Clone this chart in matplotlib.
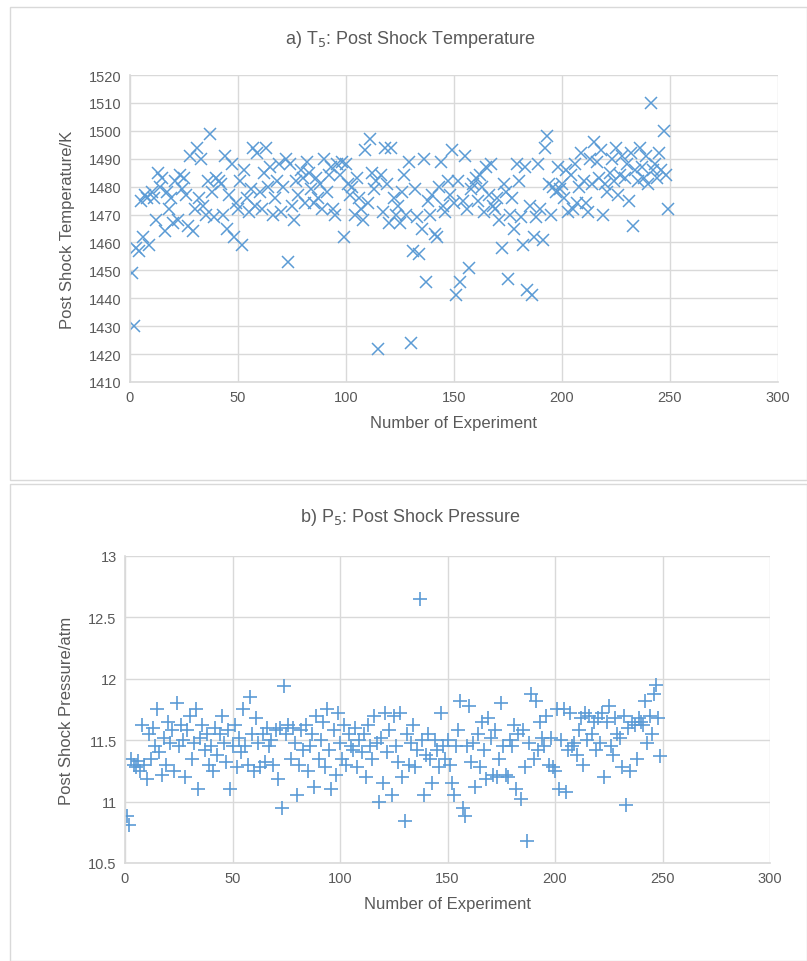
import matplotlib.pyplot as plt
from matplotlib.patches import Rectangle
import numpy as np

plt.rcParams['font.family'] = ['Liberation Sans Narrow', 'Liberation Sans', 'DejaVu Sans']

# experiment numbers 1..249
experiment = list(range(1, 250))

# a) post shock temperature, K
temp_T5 = [
    1449, 1430, 1458, 1457, 1475, 1462, 1477, 1476, 1459, 1478,
    1476, 1468, 1485, 1480, 1483, 1464, 1478, 1472, 1476, 1467,
    1482, 1468, 1484, 1479, 1483, 1477, 1466, 1491, 1464, 1472,
    1494, 1476, 1490, 1473, 1470, 1482, 1499, 1478, 1469, 1483,
    1482, 1481, 1470, 1491, 1465, 1477, 1488, 1462, 1474, 1472,
    1482, 1459, 1486, 1476, 1471, 1479, 1494, 1473, 1492, 1478,
    1472, 1485, 1494, 1480, 1487, 1470, 1476, 1482, 1488, 1471,
    1480, 1490, 1453, 1488, 1473, 1468, 1482, 1477, 1486, 1483,
    1474, 1489, 1485, 1479, 1474, 1483, 1476, 1481, 1472, 1490,
    1478, 1484, 1487, 1472, 1470, 1488, 1484, 1489, 1462, 1488,
    1481, 1477, 1480, 1470, 1483, 1476, 1472, 1468, 1493, 1474,
    1497, 1485, 1479, 1482, 1422, 1484, 1471, 1494, 1481, 1467,
    1494, 1476, 1470, 1473, 1467, 1478, 1484, 1470, 1489, 1424,
    1457, 1479, 1469, 1456, 1465, 1490, 1446, 1475, 1470, 1477,
    1463, 1462, 1480, 1489, 1473, 1471, 1482, 1477, 1493, 1474,
    1441, 1482, 1446, 1475, 1491, 1472, 1451, 1479, 1481, 1483,
    1475, 1484, 1480, 1471, 1487, 1477, 1488, 1473, 1472, 1476,
    1468, 1458, 1481, 1478, 1447, 1470, 1476, 1465, 1488, 1482,
    1469, 1459, 1487, 1443, 1473, 1441, 1462, 1469, 1488, 1472,
    1461, 1494, 1498, 1481, 1470, 1480, 1478, 1487, 1479, 1481,
    1476, 1486, 1471, 1484, 1472, 1488, 1474, 1480, 1492, 1482,
    1474, 1471, 1490, 1481, 1496, 1489, 1483, 1493, 1470, 1481,
    1478, 1485, 1490, 1482, 1494, 1477, 1484, 1491, 1483, 1488,
    1475, 1492, 1466, 1486, 1482, 1494, 1487, 1483, 1491, 1481,
    1510, 1486, 1488, 1483, 1492, 1486, 1500, 1484, 1472,
]

# b) post shock pressure, atm
press_P5 = [
    10.88, 10.81, 11.35, 11.30, 11.28, 11.33, 11.25, 11.62, 11.30, 11.18,
    11.55, 11.35, 11.60, 11.45, 11.75, 11.40, 11.22, 11.52, 11.30, 11.65,
    11.48, 11.58, 11.25, 11.80, 11.45, 11.62, 11.50, 11.20, 11.58, 11.70,
    11.35, 11.48, 11.75, 11.10, 11.52, 11.62, 11.42, 11.55, 11.30, 11.45,
    11.25, 11.60, 11.38, 11.55, 11.70, 11.48, 11.32, 11.58, 11.10, 11.45,
    11.62, 11.28, 11.52, 11.40, 11.75, 11.45, 11.30, 11.85, 11.55, 11.25,
    11.68, 11.48, 11.28, 11.55, 11.32, 11.60, 11.45, 11.50, 11.30, 11.58,
    11.18, 11.60, 10.95, 11.94, 11.55, 11.62, 11.35, 11.60, 11.48, 11.05,
    11.30, 11.58, 11.42, 11.62, 11.25, 11.45, 11.55, 11.12, 11.70, 11.35,
    11.50, 11.65, 11.28, 11.75, 11.42, 11.10, 11.58, 11.22, 11.72, 11.48,
    11.35, 11.62, 11.30, 11.55, 11.45, 11.42, 11.60, 11.28, 11.50, 11.40,
    11.55, 11.20, 11.62, 11.45, 11.35, 11.70, 11.48, 11.00, 11.52, 11.15,
    11.72, 11.40, 11.58, 11.05, 11.70, 11.45, 11.32, 11.72, 11.20, 10.84,
    11.55, 11.30, 11.48, 11.62, 11.28, 11.42, 12.65, 11.50, 11.05, 11.38,
    11.55, 11.35, 11.15, 11.50, 11.42, 11.28, 11.72, 11.45, 11.35, 11.50,
    11.30, 11.15, 11.05, 11.45, 11.58, 11.82, 10.95, 10.88, 11.45, 11.78,
    11.32, 11.48, 11.12, 11.55, 11.28, 11.65, 11.42, 11.18, 11.68, 11.52,
    11.22, 11.58, 11.20, 11.35, 11.80, 11.45, 11.22, 11.20, 11.50, 11.45,
    11.62, 11.10, 11.55, 11.02, 11.58, 11.28, 10.68, 11.48, 11.88, 11.35,
    11.82, 11.42, 11.65, 11.52, 11.45, 11.70, 11.30, 11.52, 11.28, 11.25,
    11.75, 11.10, 11.50, 11.75, 11.08, 11.42, 11.72, 11.45, 11.48, 11.38,
    11.58, 11.68, 11.30, 11.72, 11.50, 11.70, 11.55, 11.65, 11.42, 11.68,
    11.48, 11.72, 11.20, 11.65, 11.78, 11.45, 11.38, 11.68, 11.55, 11.52,
    11.28, 11.70, 10.97, 11.60, 11.25, 11.65, 11.62, 11.35, 11.68, 11.65,
    11.62, 11.82, 11.48, 11.70, 11.55, 11.88, 11.95, 11.68, 11.37,
]

blue = '#5B9BD5'
grid_c = '#D9D9D9'
text_c = '#595959'

fig = plt.figure(figsize=(8.07, 9.62), dpi=100)
W, H = 807, 962

# chart frames like the spreadsheet screenshot
fig.patches.append(Rectangle((10 / W, 1 - 481 / H), 797 / W, 473 / H, transform=fig.transFigure,
                             fill=False, edgecolor=grid_c, linewidth=1))
fig.patches.append(Rectangle((10 / W, 0), 797 / W, 1 - 485 / H, transform=fig.transFigure,
                             fill=False, edgecolor=grid_c, linewidth=1))


def style(ax):
    ax.grid(True, color=grid_c, linewidth=1)
    ax.set_axisbelow(True)
    for s in ['top', 'right']:
        ax.spines[s].set_visible(False)
    for s in ['left', 'bottom']:
        ax.spines[s].set_color(grid_c)
        ax.spines[s].set_linewidth(1.2)
    ax.tick_params(length=0, labelsize=10.5, labelcolor=text_c, pad=6)
    ax.set_xlim(0, 300)
    ax.set_xticks(np.arange(0, 301, 50))


# a) temperature
ax1 = fig.add_axes([130 / W, 1 - 383 / H, 648 / W, 307 / H])
ax1.plot(experiment, temp_T5, linestyle='none', marker='x', markersize=8.5,
         markeredgewidth=1.1, color=blue)
style(ax1)
ax1.set_ylim(1410, 1520)
ax1.set_yticks(np.arange(1410, 1521, 10))
ax1.set_xlabel('Number of Experiment', fontsize=12, color=text_c, labelpad=8)
ax1.set_ylabel('Post Shock Temperature/K', fontsize=12, color=text_c, labelpad=10)
fig.text(410 / W, 1 - 40 / H, 'a) T$_5$: Post Shock Temperature', fontsize=13,
         color=text_c, ha='center', va='center')

# b) pressure
ax2 = fig.add_axes([125 / W, 1 - 864 / H, 645 / W, 307 / H])
ax2.plot(experiment, press_P5, linestyle='none', marker='+', markersize=10,
         markeredgewidth=1.2, color=blue)
style(ax2)
ax2.set_ylim(10.5, 13)
ax2.set_yticks(np.arange(10.5, 13.01, 0.5))
ax2.set_yticklabels(['10.5', '11', '11.5', '12', '12.5', '13'])
ax2.set_xlabel('Number of Experiment', fontsize=12, color=text_c, labelpad=8)
ax2.set_ylabel('Post Shock Pressure/atm', fontsize=12, color=text_c, labelpad=10)
fig.text(410 / W, 1 - 518 / H, 'b) P$_5$: Post Shock Pressure', fontsize=13,
         color=text_c, ha='center', va='center')

plt.savefig('out.png', dpi=100)
